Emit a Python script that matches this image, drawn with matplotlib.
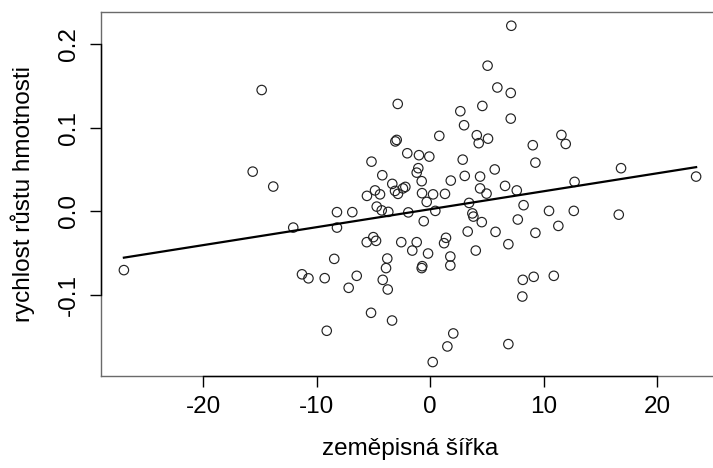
import numpy as np
import matplotlib
matplotlib.use('Agg')
import matplotlib.pyplot as plt

plt.rcParams['font.family'] = ['Liberation Sans', 'DejaVu Sans']
plt.rcParams['xtick.direction'] = 'out'
plt.rcParams['ytick.direction'] = 'out'
plt.rcParams['xtick.major.size'] = 8
plt.rcParams['ytick.major.size'] = 8
plt.rcParams['xtick.major.width'] = 1.0
plt.rcParams['ytick.major.width'] = 1.0
plt.rcParams['xtick.color'] = 'black'
plt.rcParams['ytick.color'] = 'black'

# latitude (x) and growth rate of body mass (y) for each observation
lat = [-26.97, -14.84, -15.63, -13.82, -12.06, -11.29, -10.72, -9.29, -9.11, -8.45,
       -8.21, -8.21, -7.18, -6.86, -6.47, -5.17, -4.22, -4.86, -5.57, -4.42,
       -4.71, -4.27, -3.69, -3.34, -3.10, -2.84, -2.40, -2.19, -2.95, -3.07,
       -2.86, -2.02, -0.99, -0.08, -1.05, -1.19, -0.75, -0.72, -0.31, -1.93,
       0.25, 1.30, 0.80, 1.81, 0.45, 2.65, 2.98, 2.86, 3.04, 4.39,
       4.10, 4.27, 4.59, 5.05, 5.09, 5.91, 5.68, 4.39, 4.96, 3.42,
       3.71, 3.80, 4.54, 7.14, 7.09, 7.09, 11.55, 11.93, 9.03, 9.26,
       16.80, 12.71, 23.41, 6.59, 7.62, 8.22, 10.46, 12.64, 16.60, 7.71,
       11.28, 5.75, 9.26, 6.88, 8.15, 9.11, 10.88, 8.11, 6.88, -0.57,
       3.30, -5.01, -5.59, -4.77, -2.55, -1.19, 1.39, 1.22, -1.58, -0.19,
       4.01, 1.77, -3.78, 1.77, -0.70, -0.75, -3.89, -4.18, -3.74, -5.21,
       -3.36, 2.03, 1.51, 0.22]
growth = [-0.0699, 0.1448, 0.0475, 0.0297, -0.0192, -0.0749, -0.0797, -0.0795, -0.1422, -0.0565,
          -0.0008, -0.0192, -0.0910, -0.0008, -0.0767, 0.0594, 0.0432, 0.0251, 0.0186, 0.0204,
          0.0058, 0.0013, -0.0005, 0.0329, 0.0245, 0.0210, 0.0275, 0.0293, 0.0853, 0.0835,
          0.1282, 0.0694, 0.0671, 0.0654, 0.0516, 0.0463, 0.0361, 0.0218, 0.0114, -0.0011,
          0.0204, 0.0210, 0.0901, 0.0368, 0.0007, 0.1195, 0.1028, 0.0618, 0.0424, 0.0416,
          0.0909, 0.0814, 0.1258, 0.1738, 0.0868, 0.1478, 0.0501, 0.0275, 0.0213, 0.0102,
          -0.0023, -0.0061, -0.0127, 0.2214, 0.1413, 0.1107, 0.0912, 0.0805, 0.0790, 0.0582,
          0.0516, 0.0353, 0.0416, 0.0305, 0.0251, 0.0075, 0.0007, 0.0007, -0.0038, -0.0096,
          -0.0172, -0.0243, -0.0255, -0.0390, -0.0815, -0.0779, -0.0767, -0.1014, -0.1581, -0.0116,
          -0.0239, -0.0306, -0.0366, -0.0350, -0.0366, -0.0366, -0.0314, -0.0378, -0.0466, -0.0501,
          -0.0466, -0.0537, -0.0561, -0.0644, -0.0652, -0.0675, -0.0675, -0.0815, -0.0930, -0.1208,
          -0.1300, -0.1454, -0.1609, -0.1795]

x_ticks = [-20, -10, 0, 10, 20]
y_ticks = [-0.1, 0.0, 0.1, 0.2]
y_tick_labels = ['-0.1', '0.0', '0.1', '0.2']
x_tick_labels = ['-20', '-10', '0', '10', '20']

x = np.array(lat)
y = np.array(growth)

# least squares fit, drawn over the range of the data
slope, intercept = np.polyfit(x, y, 1)
x_fit = np.array([x.min(), x.max()])
y_fit = intercept + slope * x_fit


def padded(v, frac=0.04):
    """axis range with a small margin around the data"""
    r = v.max() - v.min()
    return v.min() - frac * r, v.max() + frac * r


fig = plt.figure(figsize=(7.13, 4.68), dpi=100)
ax = fig.add_axes([101 / 713, 92.5 / 468, 618 / 713, 363.2 / 468])

ax.scatter(x, y, s=46, facecolors='none', edgecolors='#222222', linewidths=0.85, zorder=3)
ax.plot(x_fit, y_fit, color='black', lw=1.6, zorder=4)

xlim = padded(x)
ylim = padded(y)
ax.set_xlim(xlim)
ax.set_ylim(ylim)

for s in ax.spines.values():
    s.set_color('#6a6a6a')
    s.set_linewidth(1.0)

# axis lines only span the ticks
ax.plot([x_ticks[0], x_ticks[-1]], [ylim[0], ylim[0]], color='black', lw=1.0, clip_on=False, zorder=5)
ax.plot([xlim[0], xlim[0]], [y_ticks[0], y_ticks[-1]], color='black', lw=1.0, clip_on=False, zorder=5)

ax.set_xticks(x_ticks)
ax.set_xticklabels(x_tick_labels)
ax.set_yticks(y_ticks)
ax.set_yticklabels(y_tick_labels, rotation=90, va='center')
ax.tick_params(labelsize=17.5, pad=7)

fig.text(410 / 713, 1 - 449 / 468, 'zeměpisná šířka', ha='center', va='center', fontsize=17.5)
fig.text(23 / 713, 1 - 194 / 468, 'rychlost růstu hmotnosti', ha='center', va='center',
         rotation=90, fontsize=17.5)

fig.savefig('out.png', dpi=100)
